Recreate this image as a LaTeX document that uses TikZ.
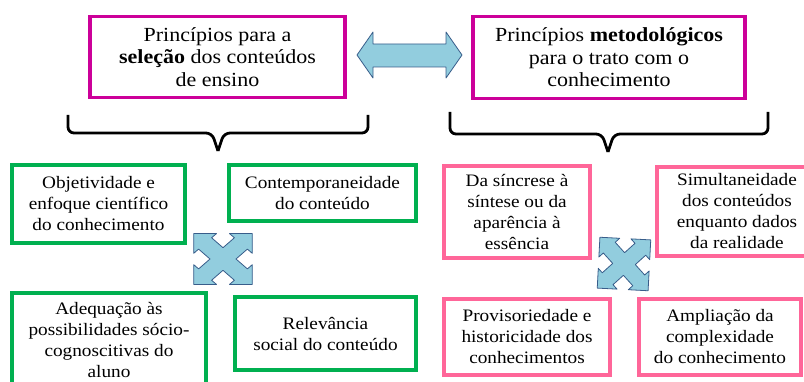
\documentclass[tikz,border=0pt]{standalone}
\usepackage{fontspec}
\setmainfont[FakeStretch=1.1]{Liberation Serif}

\definecolor{magbox}{RGB}{204,0,153}
\definecolor{greenbox}{RGB}{0,176,80}
\definecolor{pinkbox}{RGB}{255,102,153}
\definecolor{arrowfill}{RGB}{146,205,222}
\definecolor{arrowline}{RGB}{56,93,138}

\tikzset{
  crossarrow/.pic={
    \draw[fill=arrowfill,draw=arrowline,line width=0.8pt,line join=round]
      (36,0) -- (22,14) -- (22,8) -- (8,8) -- (8,22) -- (14,22) --
      (0,36) -- (-14,22) -- (-8,22) -- (-8,8) -- (-22,8) -- (-22,14) --
      (-36,0) -- (-22,-14) -- (-22,-8) -- (-8,-8) -- (-8,-22) -- (-14,-22) --
      (0,-36) -- (14,-22) -- (8,-22) -- (8,-8) -- (22,-8) -- (22,-14) -- cycle;
  }
}

\begin{document}
\begin{tikzpicture}[x=1pt,y=-1pt,
    topbox/.style={draw=magbox,line width=3.5pt,align=center,inner sep=0pt,
                   font=\fontsize{20}{22.5}\selectfont},
    greenbox/.style={draw=greenbox,line width=4pt,align=center,inner sep=0pt,
                   font=\fontsize{17.5}{21}\selectfont},
    pinkbox/.style={draw=pinkbox,line width=4pt,align=center,inner sep=0pt,
                   font=\fontsize{17.5}{21}\selectfont},
    bracket/.style={line width=2.8pt,rounded corners=6pt}]
            \clip (0,0) rectangle (804,382);

            % principles
            \node[topbox,minimum width=255,minimum height=81] (selecao) at (217.5,57)
                {Princípios para a\\\textbf{seleção} dos conteúdos\\de ensino};
            \node[topbox,minimum width=272,minimum height=82] (metodo) at (609,57.5)
                {Princípios \textbf{metodológicos}\\para o trato com o\\conhecimento};

            % two-way arrow
            \draw[fill=arrowfill,draw=arrowline,line width=0.8pt,line join=round]
                (357,55) -- (373,32) -- (373,44) -- (446,44) -- (446,32) --
                (462,55) -- (446,78) -- (446,67) -- (373,67) -- (373,78) -- cycle;

            % brackets
            \draw[bracket] (68,115) |- (212,133) -- (218,151);
            \draw[bracket] (368,115) |- (224,133) -- (218,151);
            \draw[bracket] (450,112) |- (602,134) -- (608,152);
            \draw[bracket] (768,112) |- (614,134) -- (608,152);

            %%%%%%%%%%%%%%%%%%%%%%%%%%%%%%%%%%%
            % selecao
            \node[greenbox,minimum width=173,minimum height=78] (objetiv) at (98.5,204)
                {Objetividade e\\enfoque científico\\do conhecimento};
            \node[greenbox,minimum width=187,minimum height=56] (contemp) at (322.5,193)
                {Contemporaneidade\\do conteúdo};
            \node[greenbox,minimum width=194,minimum height=95] (adequa) at (109,340.5)
                {Adequação às\\possibilidades sócio-\\cognoscitivas do\\aluno};
            \node[greenbox,minimum width=181,minimum height=73] (relev) at (325.5,333.5)
                {Relevância\\social do conteúdo};
            \pic[xscale=1.15,rotate=45] at (223,259) {crossarrow};
            %%%%%%%%%%%%%%%%%%%%%%%%%%%%%%%%%%%

            %%%%%%%%%%%%%%%%%%%%%%%%%%%%%%%%%%%
            % metodo
            \node[pinkbox,minimum width=146,minimum height=92] (sincrese) at (517,212)
                {Da síncrese à\\síntese ou da\\aparência à\\essência};
            \node[pinkbox,minimum width=160,minimum height=89] (simult) at (737,211.5)
                {Simultaneidade\\dos conteúdos\\enquanto dados\\da realidade};
            \node[pinkbox,minimum width=166,minimum height=76] (provis) at (527,337)
                {Provisoriedade e\\historicidade dos\\conhecimentos};
            \node[pinkbox,minimum width=162,minimum height=76] (amplia) at (720,337)
                {Ampliação da\\complexidade\\do conhecimento};
            \pic[rotate=42] at (624,264) {crossarrow};
            %%%%%%%%%%%%%%%%%%%%%%%%%%%%%%%%%%%

        \end{tikzpicture}
\end{document}
